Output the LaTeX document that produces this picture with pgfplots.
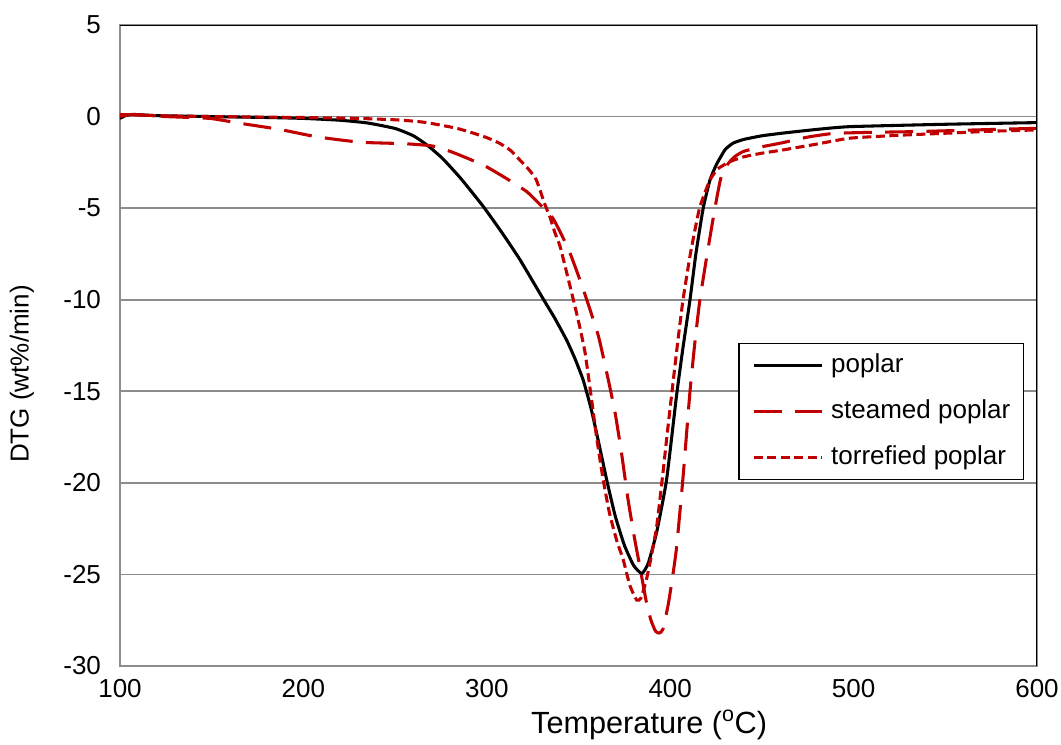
\documentclass[border=0pt]{standalone}
\usepackage{fontspec}
\setmainfont{Liberation Sans}
\usepackage{pgfplots}
\pgfplotsset{compat=1.18}
\definecolor{myred}{HTML}{C00000}
\definecolor{gridgray}{HTML}{8C8C8C}
\begin{document}
\begin{tikzpicture}
\useasboundingbox (-90pt,-58.5pt) rectangle (705.75pt,499.5pt);
\begin{axis}[
  at={(0pt,0pt)}, anchor=south west,
  scale only axis,
  width=687.75pt, height=480.75pt,
  xmin=100, xmax=600, ymin=-30, ymax=5,
  xtick={100,200,...,600}, ytick={-30,-25,...,5},
  major tick length=0pt,
  /pgf/number format/assume math mode=true,
  tick label style={font=\fontsize{19.5}{22}\selectfont},
  label style={font=\fontsize{19.5}{22}\selectfont},
  xticklabel style={yshift=-6.5pt},
  yticklabel style={xshift=-10.75pt},
  xmajorgrids=false, ymajorgrids=true, grid style={draw=gridgray, line width=1.2pt},
  axis line style={draw=gridgray, line width=1.5pt},
  xlabel={Temperature (\textsuperscript{o}C)},
  ylabel={DTG (wt\%/min)},
  xlabel style={at={(axis description cs:0.577,-0.092)}, anchor=center, font=\fontsize{23}{25}\selectfont},
  ylabel style={at={(axis description cs:-0.1069,0.4555)}, anchor=center},
  legend cell align=left,
  legend style={at={(0.674,0.504)}, anchor=north west, draw=black, line width=1.1pt,
    font=\fontsize{19.5}{22}\selectfont, row sep=16.5pt, column sep=6pt,
    inner xsep=10pt, inner ysep=7.5pt,
    nodes={inner sep=0pt, text height=14pt, text depth=4pt}},
  legend image code/.code={\draw[#1] (0pt,0pt) -- (51pt,0pt);},
]
\addplot[black, line width=2.3pt, smooth, tension=0.3] coordinates {
(100,-0.1) (103,0.05) (107,0.12) (120,0.05) (150,0.0) (180,-0.05) (200,-0.1) (220,-0.2)
(235,-0.35) (250,-0.65) (260,-1.05) (268,-1.6) (276,-2.3) (286,-3.4) (298,-4.9) (308,-6.3)
(318,-7.8) (331,-10.0) (337,-11.0) (343.5,-12.2) (348,-13.2) (352.6,-14.4) (357,-16.0)
(361,-17.8) (365.4,-19.85) (370,-21.8) (375,-23.4) (380,-24.5) (384.5,-24.95) (388,-24.4)
(392.6,-22.7) (398,-19.85) (403.5,-15.2) (407,-12.6) (410.8,-10.0) (414,-7.5) (418,-5.0)
(421.7,-3.46) (425.3,-2.6) (430,-1.8) (434.3,-1.45) (440,-1.25) (450,-1.05) (461.6,-0.9)
(480,-0.7) (498,-0.55) (550,-0.42) (600,-0.33)
};
\addlegendentry{poplar}
\addplot[myred, line width=2.3pt, dash pattern=on 21pt off 10pt, smooth, tension=0.3] coordinates {
(100,0.1) (110,0.1) (125,0.0) (149,-0.1) (165,-0.36) (187,-0.7) (207,-1.1) (231,-1.4)
(255,-1.48) (270,-1.6) (280,-1.9) (290,-2.3) (300,-2.75) (311,-3.4) (321.8,-4.1) (329,-4.8)
(336,-5.55) (341,-6.5) (345.4,-7.46) (350,-8.7) (354.5,-10.0) (360.9,-12.0) (366.3,-14.4)
(370,-16.2) (373.5,-18.4) (377,-20.9) (380.5,-23.0) (383.5,-24.6) (387,-26.5) (389.5,-27.5)
(392,-28.1) (394,-28.2) (396,-28.0) (399,-26.6) (401.5,-25.0) (403.5,-23.5) (407,-19.7)
(410.8,-15.0) (413.5,-12.3) (416.2,-10.0) (420.5,-7.3) (424.4,-5.0) (427.5,-3.4) (431,-2.65)
(435,-2.2) (440,-1.9) (450,-1.65) (461.6,-1.42) (475,-1.12) (489,-0.92) (510,-0.86)
(534,-0.82) (570,-0.72) (600,-0.64)
};
\addlegendentry{steamed poplar}
\addplot[myred, line width=2.3pt, dash pattern=on 6.75pt off 3.4pt, smooth, tension=0.3] coordinates {
(100,0.0) (105,0.1) (120,0.05) (150,0.0) (200,-0.05) (230,-0.1) (252.7,-0.19) (265,-0.3)
(274.5,-0.46) (284,-0.65) (292.5,-0.9) (300,-1.15) (307,-1.46) (313,-1.85) (318,-2.37)
(323,-2.9) (327,-3.46) (331.7,-4.8) (334.5,-5.5) (337,-6.3) (340,-7.1) (343.5,-8.5)
(347.2,-10.0) (350.5,-11.4) (353.6,-12.9) (357.2,-15.5) (360,-17.6) (363.5,-19.85)
(367,-21.7) (371,-23.2) (374.4,-24.2) (378,-25.6) (381.7,-26.4) (384,-26.3) (387,-25.3)
(389.5,-24.1) (392.6,-22.4) (396,-19.5) (398.5,-17.2) (401,-15.0) (404,-12.4) (407,-10.0)
(411,-7.5) (416,-5.0) (421.7,-3.46) (426,-2.85) (432.6,-2.46) (440,-2.2) (450,-2.0)
(461.6,-1.82) (480,-1.5) (498,-1.18) (525,-1.02) (552.5,-0.9) (575,-0.8) (600,-0.73)
};
\addlegendentry{torrefied poplar}
\draw[black, line width=1.5pt] (rel axis cs:0,1) -- (rel axis cs:1,1) -- (rel axis cs:1,0);
\end{axis}
\end{tikzpicture}
\end{document}
